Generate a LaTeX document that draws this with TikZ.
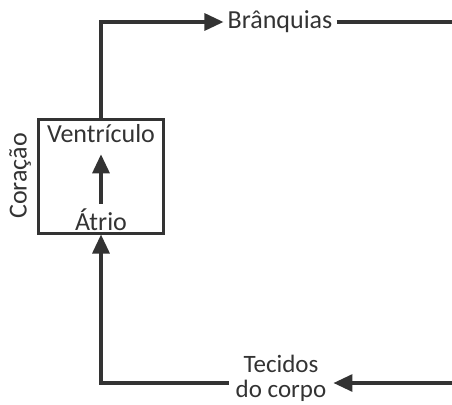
\documentclass[tikz,border=0pt]{standalone}
\usepackage{fontspec}
\setmainfont{Carlito}
\usetikzlibrary{arrows.meta}
\definecolor{ink}{HTML}{333333}

\tikzset{
  flow/.style={-{Triangle[length=19pt,width=17pt]}, line width=3.2pt, draw=ink},
  wire/.style={line width=3.2pt, draw=ink},
  label/.style={font=\fontsize{26}{24}\selectfont, text=ink, inner sep=4pt}
}

\begin{document}
\begin{tikzpicture}[x=1pt, y=-1pt]
        \useasboundingbox (0,0) rectangle (452,404);

        \node[draw=ink, line width=3pt, minimum width=125pt, minimum height=114pt] (heart) at (101,176) {};
        \node[label] (ventriculo) at (101,134) {Ventrículo};
        \node[label] (atrio) at (101,220) {Átrio};
        \node[label, rotate=90] (coracao) at (20,176) {Coração};
        \node[label] (branquias) at (280,22) {Brânquias};
        \node[label, font=\fontsize{25}{25}\selectfont, align=center, inner xsep=7pt, inner ysep=0pt] (tecidos) at (281,378) {Tecidos\\do corpo};
        \coordinate (gillsend) at (452,22);
        \coordinate (bodyend) at (452,383);

        \draw[flow] (atrio.north) ++(0,-1) -- ([yshift=-7pt]ventriculo.south);
        \draw[flow] (heart.north) |- (branquias.west);
        \draw[wire] (branquias.east) -- (gillsend);
        \draw[flow] (bodyend) -- (tecidos.east |- bodyend);
        \draw[flow] (tecidos.west |- bodyend) -| (heart.south);

      \end{tikzpicture}
\end{document}
